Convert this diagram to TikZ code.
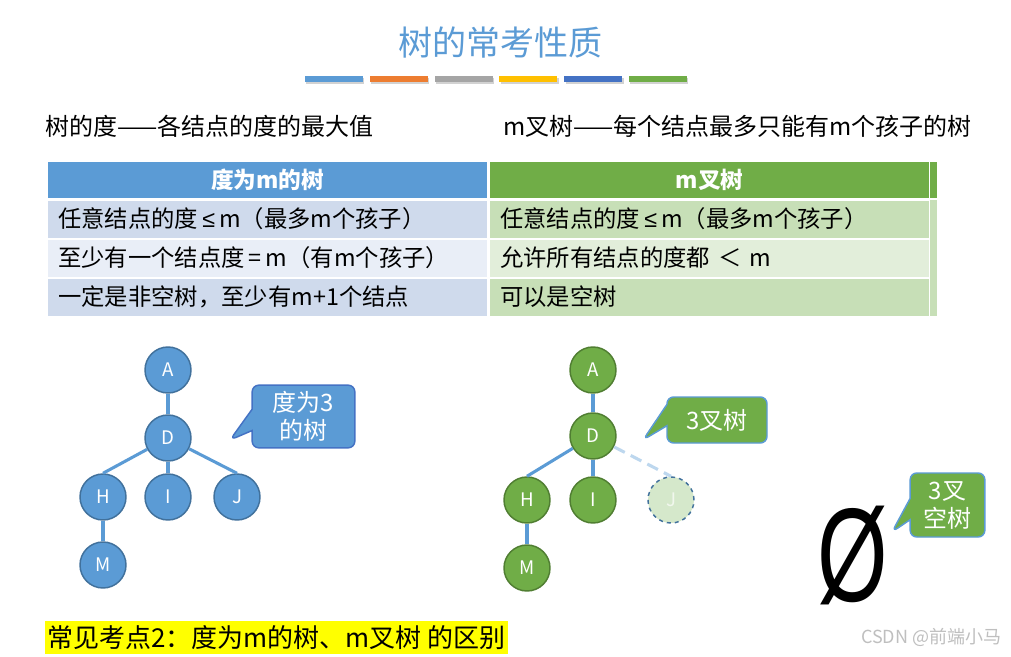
\documentclass[tikz,border=0pt]{standalone}
\usepackage{fontspec}
\usepackage{graphicx}
\setmainfont{Noto Sans CJK SC}
\newfontfamily\symfont{Liberation Sans}
\usetikzlibrary{
  positioning,
  shapes.callouts,
  shadows,
  calc
}
\definecolor{tkBlue}{HTML}{5B9BD5}
\definecolor{tkBlueDark}{HTML}{41719C}
\definecolor{tkBlueLine}{HTML}{BDD7EE}
\definecolor{tkGreen}{HTML}{70AD47}
\definecolor{tkGreenDark}{HTML}{507E32}
\definecolor{tkGreenPale}{HTML}{D5E8CB}
\definecolor{tkOrange}{HTML}{ED7D31}
\definecolor{tkGray}{HTML}{A5A5A5}
\definecolor{tkGold}{HTML}{FFC000}
\definecolor{tkNavy}{HTML}{4472C4}
\definecolor{rowBlueA}{HTML}{CFDAEC}
\definecolor{rowBlueB}{HTML}{E9EEF7}
\definecolor{rowGreenA}{HTML}{C7DFB7}
\definecolor{rowGreenB}{HTML}{E2EEDA}
\definecolor{markYellow}{HTML}{FFFF00}
\newcommand{\leqm}{\hspace{3pt}{\symfont ≤}\hspace{3pt}}
\tikzset{
  bar/.style={minimum width=43.5pt, minimum height=4.5pt, inner sep=0pt,
    drop shadow={shadow xshift=1pt, shadow yshift=-1.2pt, opacity=0.35}},
  plain/.style={font=\fontsize{18}{20}\selectfont, inner sep=0pt, anchor=west},
  headcell/.style={minimum width=329pt, minimum height=27pt, inner sep=0pt,
    text=white, font=\fontsize{17}{20}\selectfont\bfseries, anchor=west},
  rowcell/.style={minimum width=329pt, minimum height=27.75pt, inner xsep=7.5pt,
    inner ysep=0pt, text width=314pt, align=left,
    font=\fontsize{17.5}{20}\selectfont, anchor=west},
  tnode/.style={circle, minimum size=34.5pt, inner sep=0pt, line width=1.1pt,
    text=white, font=\fontsize{14}{16}\selectfont},
  bnode/.style={tnode, fill=tkBlue, draw=tkBlueDark},
  gnode/.style={tnode, fill=tkGreen, draw=tkGreenDark},
  ghost/.style={tnode, fill=tkGreenPale, draw=tkBlueDark, dashed},
  tedge/.style={line width=2.3pt, tkBlue},
  callbox/.style={rectangle callout, rounded corners=5pt, line width=1.1pt,
    text=white, align=center, inner sep=0pt, callout pointer width=16pt,
    font=\fontsize{18}{21}\selectfont}
}
\begin{document}
\begin{tikzpicture}[x=0.75pt, y=-0.75pt]
  \useasboundingbox[fill=white] (0,0) rectangle (1011,657);

  % title
  \node[text=tkBlue, font=\fontsize{25.5}{30}\selectfont] (title) at (500,43) {树的常考性质};
  \foreach \c [count=\i from 0] in {tkBlue,tkOrange,tkGray,tkGold,tkNavy,tkGreen}
    \node[bar, fill=\c] (bar\i) at ({334+64.8*\i},79) {};

  \node[plain] (degdef) at (45,126) {树的度——各结点的度的最大值};
  \node[plain] (mdef) at (503,126) {m叉树——每个结点最多只能有m个孩子的树};

  % table
  \node[headcell, fill=tkBlue] (hL) at (48,180) {度为m的树};
  \node[headcell, fill=tkGreen] (hR) at (490,180) {m叉树};
  \node[rowcell, fill=rowBlueA] (r1L) at (48,219) {任意结点的度\leqm m（最多m个孩子）};
  \node[rowcell, fill=rowGreenA] (r1R) at (490,219) {任意结点的度\leqm m（最多m个孩子）};
  \node[rowcell, fill=rowBlueB] (r2L) at (48,258) {至少有一个结点度\hspace{3pt}=\hspace{3pt}m（有m个孩子）};
  \node[rowcell, fill=rowGreenB] (r2R) at (490,258) {允许所有结点的度都 ＜ m};
  \node[rowcell, fill=rowBlueA] (r3L) at (48,297) {一定是非空树，至少有m+1个结点};
  \node[rowcell, fill=rowGreenA] (r3R) at (490,297) {可以是空树};
  \fill[tkGreen] (930,162) rectangle (937,198);
  \fill[rowGreenA] (930,200) rectangle (937,316);

  % degree-3 tree
  \node[bnode] (a1) at (168,370) {A};
  \node[bnode] (d1) at (168,438) {D};
  \node[bnode] (h1) at (103,497) {H};
  \node[bnode] (i1) at (168,497) {I};
  \node[bnode] (j1) at (237,497) {J};
  \node[bnode] (m1) at (103,565) {M};
  \draw[tedge] (a1)--(d1);
  \foreach \n in {h1,i1,j1}{\draw[tedge] (d1)--(\n.north);}
  \draw[tedge] (h1)--(m1);
  \coordinate (tip1) at (230,440);
  \node[callbox, fill=tkBlue, draw=tkNavy, minimum width=77pt, minimum height=47pt,
    callout absolute pointer={(tip1)}] (say1) at (303.5,416.5) {度为3\\的树};

  % ternary tree
  \node[gnode] (a2) at (593,370) {A};
  \node[gnode] (d2) at (593,436) {D};
  \node[gnode] (h2) at (527,500) {H};
  \node[gnode] (i2) at (593,500) {I};
  \node[ghost, text=white!90!tkGreen] (j2) at (671,500) {J};
  \node[gnode] (m2) at (527,568) {M};
  \draw[tedge] (a2)--(d2);
  \foreach \n in {h2,i2}{\draw[tedge] (d2)--(\n.north);}
  \draw[tedge, tkBlueLine, dash pattern=on 9pt off 5pt] (d2)--(j2.north);
  \draw[tedge] (h2)--(m2);
  \coordinate (tip2) at (643,440);
  \node[callbox, fill=tkGreen, draw=tkBlue, minimum width=75pt, minimum height=34.5pt,
    callout absolute pointer={(tip2)}] (say2) at (717,420) {3叉树};

  % empty tree
  \node[font=\symfont\fontsize{100}{100}\selectfont, inner sep=0pt] (empty) at (853,555)
    {\scalebox{0.68}[1]{Ø}};
  \coordinate (tip3) at (892,532);
  \node[callbox, fill=tkGreen, draw=tkBlue, minimum width=56pt, minimum height=48pt,
    callout absolute pointer={(tip3)}] (say3) at (947.5,505) {3叉\\空树};

  \node[plain, fill=markYellow, inner xsep=1.5pt, minimum height=24.75pt,
    font=\fontsize{19.5}{22}\selectfont] (key) at (45,637.5) {常见考点2：度为m的树、m叉树 的区别};
  \node[text=black!25, font=\fontsize{13.5}{15}\selectfont, anchor=east] (mark) at (1006,637) {CSDN @前端小马};
\end{tikzpicture}
\end{document}
